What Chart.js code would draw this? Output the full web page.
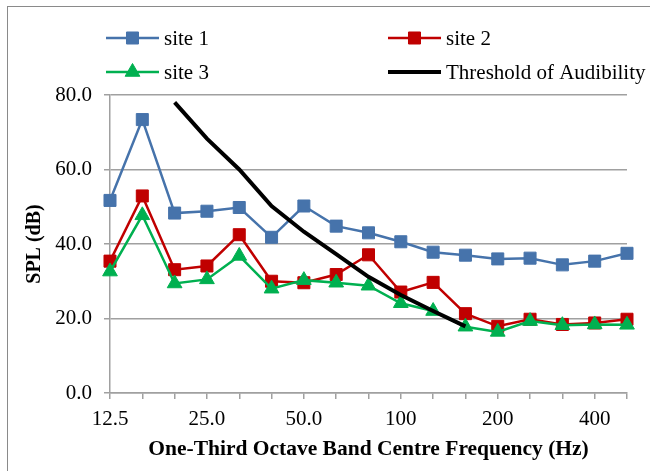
<!DOCTYPE html>
<html>
<head>
<meta charset="utf-8">
<script src="https://cdn.jsdelivr.net/npm/chart.js@4.4.1/dist/chart.umd.min.js"></script>
<style>
  html, body { margin: 0; padding: 0; background: #fff; }
  #wrap { position: relative; width: 650px; height: 471px; overflow: hidden; }
  #frame { position: absolute; left: 7px; top: 6px; width: 700px; height: 520px; border: 1px solid #8a8a8a; box-sizing: border-box; pointer-events: none; }
  canvas { position: absolute; left: 0; top: 0; }
</style>
</head>
<body>
<div id="wrap">
  <canvas id="c" width="650" height="471"></canvas>
  <div id="frame"></div>
</div>
<script>
// one-third octave band centre frequencies (Hz)
const bands = ['12.5', '16', '20', '25.0', '31.5', '40', '50.0', '63', '80', '100', '125', '160', '200', '250', '315', '400', '500'];

// SPL (dB)
const site1 = [51.7, 73.4, 48.3, 48.8, 49.8, 41.8, 50.2, 44.8, 43.0, 40.6, 37.8, 37.0, 36.0, 36.2, 34.4, 35.4, 37.5];
const site2 = [35.4, 52.9, 33.1, 34.1, 42.5, 30.0, 29.6, 31.8, 37.1, 27.1, 29.7, 21.3, 17.9, 19.8, 18.4, 18.8, 19.8];
const site3 = [32.6, 47.7, 29.4, 30.5, 36.8, 28.0, 30.3, 29.6, 28.8, 24.1, 22.0, 17.8, 16.4, 19.3, 18.2, 18.4, 18.3];
const threshold = [null, null, 78.0, 68.3, 60.0, 50.2, 43.3, 37.3, 31.2, 26.3, 22.0, 17.9, null, null, null, null, null];

const yTicks = [0, 20, 40, 60, 80];

const GRID = '#a0a0a0';
const SERIF = '"Liberation Serif", "Times New Roman", serif';

// two-column legend like the original
const gridLegend = {
  id: 'gridLegend',
  afterDraw(chart, args, opts) {
    const ctx = chart.ctx;
    ctx.save();
    chart.data.datasets.forEach((ds, i) => {
      const [x, y] = opts.slots[i];
      ctx.strokeStyle = ds.borderColor;
      ctx.lineWidth = ds.borderWidth;
      ctx.beginPath();
      ctx.moveTo(x, y);
      ctx.lineTo(x + 53, y);
      ctx.stroke();
      if (ds.pointRadius > 0) {
        ctx.fillStyle = ds.pointBackgroundColor;
        ctx.strokeStyle = ds.pointBackgroundColor;
        ctx.lineWidth = 1;
        Chart.helpers.drawPoint(ctx, { pointStyle: ds.pointStyle, radius: ds.pointRadius, borderWidth: 1 }, x + 26.5, y);
      }
      ctx.fillStyle = '#000';
      ctx.font = '21px ' + SERIF;
      ctx.textBaseline = 'middle';
      ctx.textAlign = 'left';
      ctx.fillText(ds.label, x + 58, y + 1);
    });
    ctx.restore();
  }
};

new Chart(document.getElementById('c'), {
  type: 'line',
  data: {
    labels: bands,
    datasets: [
      {
        label: 'site 1', data: site1,
        borderColor: '#4673ab', borderWidth: 2.5,
        pointStyle: 'rect', pointRadius: 8.5, pointBackgroundColor: '#4673ab', pointBorderColor: '#4673ab', pointBorderWidth: 1,
        order: 4
      },
      {
        label: 'site 2', data: site2,
        borderColor: '#c00000', borderWidth: 2.5,
        pointStyle: 'rect', pointRadius: 8.5, pointBackgroundColor: '#c00000', pointBorderColor: '#c00000', pointBorderWidth: 1,
        order: 3
      },
      {
        label: 'site 3', data: site3,
        borderColor: '#00b050', borderWidth: 2.5,
        pointStyle: 'triangle', pointRadius: 8.5, pointBackgroundColor: '#00b050', pointBorderColor: '#00b050', pointBorderWidth: 1,
        order: 2
      },
      {
        label: 'Threshold of Audibility', data: threshold,
        borderColor: '#000', borderWidth: 4,
        pointRadius: 0,
        order: 1
      }
    ]
  },
  options: {
    responsive: false,
    animation: false,
    layout: { padding: { left: 23, right: 23, top: 95, bottom: 9 } },
    plugins: {
      legend: { display: false },
      tooltip: { enabled: false },
      gridLegend: { slots: [[106, 38], [388, 38], [106, 72], [388, 72]] }
    },
    elements: { line: { tension: 0 } },
    scales: {
      x: {
        type: 'category',
        offset: false,
        grid: { display: true, drawOnChartArea: false, drawTicks: true, tickLength: 6, color: GRID, lineWidth: 1.5 },
        border: { color: GRID, width: 1.5 },
        ticks: {
          autoSkip: false, maxRotation: 0, padding: 8,
          color: '#000', font: { family: SERIF, size: 21 },
          callback: function (v, i) { return i % 3 === 0 ? this.getLabelForValue(v) : ''; }
        },
        title: {
          display: true, text: 'One-Third Octave Band Centre Frequency (Hz)',
          color: '#000', font: { family: SERIF, size: 21.5, weight: 'bold' }, padding: { top: 4, bottom: 0 }
        },
        afterFit(s) { s.height = 69; }
      },
      y: {
        min: 0, max: 80,
        afterBuildTicks(s) { s.ticks = yTicks.map(v => ({ value: v })); },
        grid: { color: GRID, lineWidth: 1.5, tickLength: 6 },
        border: { color: GRID, width: 1.5 },
        ticks: {
          padding: 12, color: '#000', font: { family: SERIF, size: 21 },
          callback: v => v.toFixed(1)
        },
        title: {
          display: true, text: 'SPL (dB)',
          color: '#000', font: { family: SERIF, size: 20, weight: 'bold' }, padding: { top: 0, bottom: 0 }
        },
        afterFit(s) { s.width = 87; }
      }
    }
  },
  plugins: [gridLegend]
});
</script>
</body>
</html>
